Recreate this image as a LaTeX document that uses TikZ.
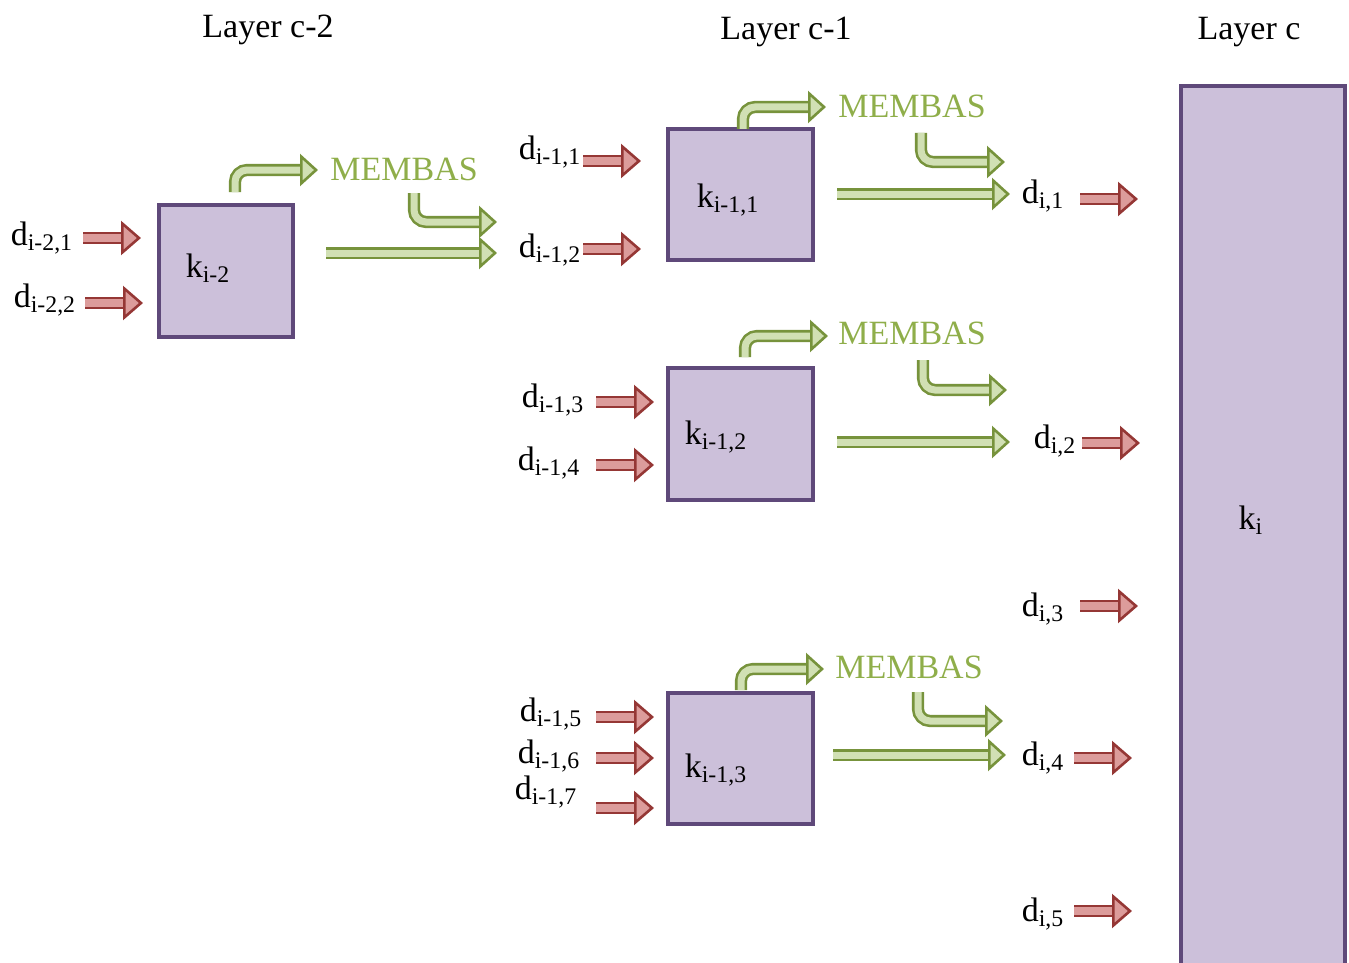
\documentclass[tikz,border=0pt]{standalone}
\usepackage{fontspec}
\setmainfont{Liberation Serif}
\usetikzlibrary{arrows.meta}
\definecolor{boxfill}{HTML}{CCC0DA}
\definecolor{boxline}{HTML}{5F497A}
\definecolor{redline}{HTML}{953735}
\definecolor{redfill}{HTML}{DC9C9B}
\definecolor{grnline}{HTML}{77933C}
\definecolor{grnfill}{HTML}{D1E0B4}
\definecolor{grntext}{HTML}{8FAE4A}
\tikzset{
  kbox/.style={draw=boxline,fill=boxfill,line width=1.6pt},
  lbl/.style={inner sep=0pt,font=\fontsize{17}{20}\selectfont},
  redarr/.style={draw=redline,double=redfill,line width=1.3pt,double distance=3.8pt,
    -{Triangle[length=10pt,width=17pt,fill=redfill,line width=1.3pt]}},
  grnarr/.style={draw=grnline,double=grnfill,line width=1.3pt,double distance=3.5pt,
    rounded corners=6pt,-{Triangle[length=9pt,width=16pt,fill=grnfill,line width=1.3pt]}},
}
\begin{document}
\begin{tikzpicture}[x=0.5pt,y=-0.5pt]
        \useasboundingbox (0,0) rectangle (1349,963);
        \clip (0,0) rectangle (1349,963);

        % layer titles
        \node[lbl] (L2) at (268,30) {Layer c-2};
        \node[lbl] (L1) at (786,32) {Layer c-1};
        \node[lbl] (L0) at (1249,32) {Layer c};

        % boxes
        \draw[kbox] (159,205) rectangle (293,337);
        \draw[kbox] (668,129) rectangle (813,260);
        \draw[kbox] (668,368) rectangle (813,500);
        \draw[kbox] (668,693) rectangle (813,824);
        \draw[kbox] (1181,86) rectangle (1345,990);
        \node[lbl] (k2) at (208,268) {k\textsubscript{i-2}};
        \node[lbl] (k11) at (728,200) {k\textsubscript{i-1,1}};
        \node[lbl] (k12) at (716,437) {k\textsubscript{i-1,2}};
        \node[lbl] (k13) at (716,770) {k\textsubscript{i-1,3}};
        \node[lbl] (k0) at (1251,520) {k\textsubscript{i}};

        % inputs of layer c-2
        \node[lbl] (d21) at (42,238) {d\textsubscript{i-2,1}};
        \node[lbl] (d22) at (45,300) {d\textsubscript{i-2,2}};
        \draw[redarr] (83,238) -- (141,238);
        \draw[redarr] (85,303) -- (143,303);

        % inputs of layer c-1
        \node[lbl] (d11) at (550,152) {d\textsubscript{i-1,1}};
        \node[lbl] (d12) at (550,250) {d\textsubscript{i-1,2}};
        \node[lbl] (d13) at (553,400) {d\textsubscript{i-1,3}};
        \node[lbl] (d14) at (549,463) {d\textsubscript{i-1,4}};
        \node[lbl] (d15) at (551,714) {d\textsubscript{i-1,5}};
        \node[lbl] (d16) at (549,756) {d\textsubscript{i-1,6}};
        \node[lbl] (d17) at (546,792) {d\textsubscript{i-1,7}};
        \draw[redarr] (583,161) -- (641,161);
        \draw[redarr] (583,249) -- (641,249);
        \draw[redarr] (596,402) -- (654,402);
        \draw[redarr] (596,465) -- (654,465);
        \draw[redarr] (596,717) -- (654,717);
        \draw[redarr] (596,758) -- (654,758);
        \draw[redarr] (596,808) -- (654,808);

        % inputs of layer c
        \node[lbl] (d01) at (1043,196) {d\textsubscript{i,1}};
        \node[lbl] (d02) at (1055,441) {d\textsubscript{i,2}};
        \node[lbl] (d03) at (1043,609) {d\textsubscript{i,3}};
        \node[lbl] (d04) at (1043,758) {d\textsubscript{i,4}};
        \node[lbl] (d05) at (1043,914) {d\textsubscript{i,5}};
        \draw[redarr] (1080,199) -- (1138,199);
        \draw[redarr] (1082,443) -- (1140,443);
        \draw[redarr] (1080,606) -- (1138,606);
        \draw[redarr] (1074,758) -- (1132,758);
        \draw[redarr] (1074,911) -- (1132,911);

        % MEMBAS
        \node[lbl,text=grntext] (m2) at (404,169) {MEMBAS};
        \node[lbl,text=grntext] (m11) at (912,106) {MEMBAS};
        \node[lbl,text=grntext] (m12) at (912,333) {MEMBAS};
        \node[lbl,text=grntext] (m13) at (909,667) {MEMBAS};

        \draw[grnarr] (235,192) -- (235,170) -- (318,170);
        \draw[grnarr] (414,193) -- (414,222) -- (497,222);
        \draw[grnarr] (326,253) -- (497,253);

        \draw[grnarr] (743,129) -- (743,107) -- (826,107);
        \draw[grnarr] (921,133) -- (921,162) -- (1005,162);
        \draw[grnarr] (837,194) -- (1010,194);

        \draw[grnarr] (745,357) -- (745,336) -- (828,336);
        \draw[grnarr] (923,360) -- (923,390) -- (1007,390);
        \draw[grnarr] (837,442) -- (1010,442);

        \draw[grnarr] (741,690) -- (741,669) -- (824,669);
        \draw[grnarr] (918,692) -- (918,721) -- (1003,721);
        \draw[grnarr] (833,755) -- (1006,755);
\end{tikzpicture}
\end{document}
